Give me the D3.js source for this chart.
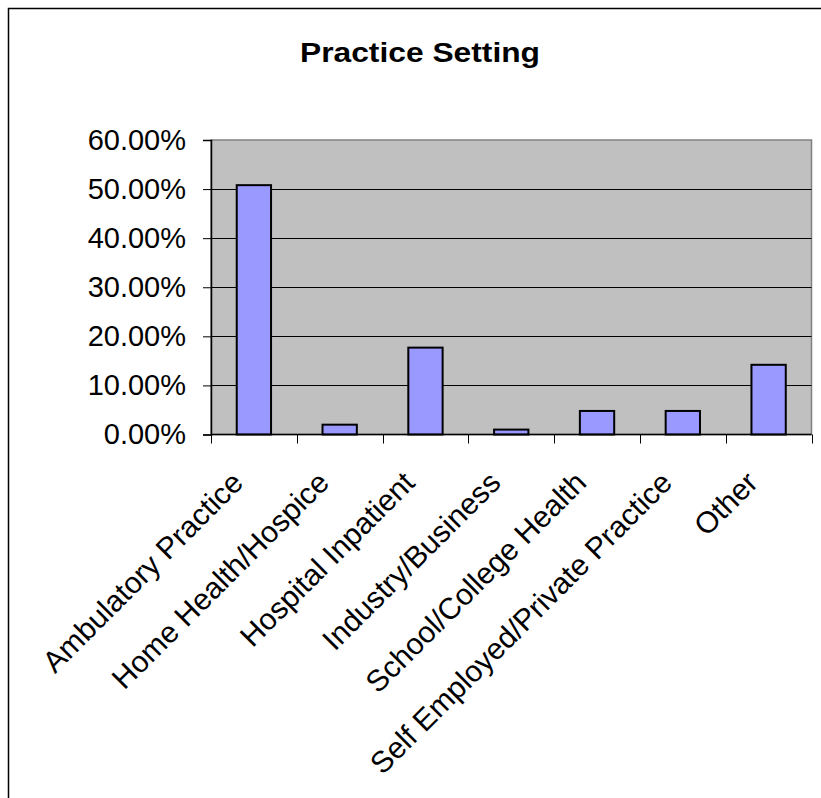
<!DOCTYPE html>
<html>
<head>
<meta charset="utf-8">
<script src="https://cdn.jsdelivr.net/npm/d3@7"></script>
<style>
  html, body { margin: 0; padding: 0; background: #fff; }
  svg { display: block; }
  text { font-family: "Liberation Sans", Arial, sans-serif; fill: #000; }
</style>
</head>
<body>
<svg id="chart" width="821" height="798"></svg>
<script>
const title = "Practice Setting";
const categories = [
  "Ambulatory Practice",
  "Home Health/Hospice",
  "Hospital Inpatient",
  "Industry/Business",
  "School/College Health",
  "Self Employed/Private Practice",
  "Other"
];
const values = [0.508, 0.020, 0.177, 0.010, 0.048, 0.048, 0.142];
const yTicks = [0, 0.1, 0.2, 0.3, 0.4, 0.5, 0.6];

const svg = d3.select("#chart");

// outer chart border (extends beyond the visible area on right/bottom)
svg.append("rect")
  .attr("x", 8.5).attr("y", 8.5)
  .attr("width", 840).attr("height", 820)
  .attr("fill", "#fff")
  .attr("stroke", "#000").attr("stroke-width", 1.5);

const plot = { left: 211, right: 811.5, top: 140, bottom: 434.5 };

const x = d3.scaleBand()
  .domain(categories)
  .range([plot.left, plot.right])
  .paddingInner(0.6)
  .paddingOuter(0.3);

const xOuter = d3.scaleBand()
  .domain(categories)
  .range([plot.left, plot.right]);

const y = d3.scaleLinear()
  .domain([0, 0.6])
  .range([plot.bottom, plot.top]);

// plot area background
svg.append("rect")
  .attr("x", plot.left).attr("y", plot.top)
  .attr("width", plot.right - plot.left)
  .attr("height", plot.bottom - plot.top)
  .attr("fill", "#c0c0c0")
  .attr("stroke", "#808080").attr("stroke-width", 1.5);

// gridlines
svg.append("g")
  .selectAll("line")
  .data(yTicks.filter(d => d > 0 && d < 0.6))
  .join("line")
  .attr("x1", plot.left).attr("x2", plot.right)
  .attr("y1", d => Math.round(y(d)) + 0.5)
  .attr("y2", d => Math.round(y(d)) + 0.5)
  .attr("stroke", "#000").attr("stroke-width", 1);

// bars
svg.append("g")
  .selectAll("rect")
  .data(values)
  .join("rect")
  .attr("x", (d, i) => x(categories[i]))
  .attr("y", d => y(d))
  .attr("width", x.bandwidth())
  .attr("height", d => y(0) - y(d))
  .attr("fill", "#9999ff")
  .attr("stroke", "#000").attr("stroke-width", 2);

// y axis
const yAxis = d3.axisLeft(y)
  .tickValues(yTicks)
  .tickFormat(d3.format(".2%"))
  .tickSize(8)
  .tickPadding(17);
const gy = svg.append("g")
  .attr("transform", `translate(${plot.left},0)`)
  .call(yAxis);
gy.select(".domain").attr("stroke", "#000").attr("stroke-width", 1.5);
gy.selectAll(".tick line").attr("stroke", "#000");
gy.selectAll(".tick text")
  .attr("font-size", 29)
  .attr("font-family", "Liberation Sans, Arial, sans-serif")
  .attr("fill", "#000");

// x axis line
svg.append("line")
  .attr("x1", plot.left).attr("x2", plot.right)
  .attr("y1", plot.bottom).attr("y2", plot.bottom)
  .attr("stroke", "#000").attr("stroke-width", 1.5);

// x tick marks at category boundaries
const boundaries = categories.map(c => xOuter(c)).concat([plot.right]);
svg.append("g")
  .selectAll("line")
  .data(boundaries)
  .join("line")
  .attr("x1", d => Math.round(d) + 0.5).attr("x2", d => Math.round(d) + 0.5)
  .attr("y1", plot.bottom).attr("y2", plot.bottom + 9)
  .attr("stroke", "#000").attr("stroke-width", 1);

// x labels
svg.append("g")
  .selectAll("text")
  .data(categories)
  .join("text")
  .attr("transform", d => {
    const cx = xOuter(d) + xOuter.bandwidth() / 2 - 9;
    return `translate(${cx},${plot.bottom + 50}) rotate(-45)`;
  })
  .attr("text-anchor", "end")
  .attr("font-size", 30)
  .text(d => d);

// title
svg.append("text")
  .attr("x", 420).attr("y", 62)
  .attr("text-anchor", "middle")
  .attr("font-size", 27)
  .attr("font-weight", "bold")
  .attr("textLength", 240)
  .attr("lengthAdjust", "spacingAndGlyphs")
  .text(title);
</script>
</body>
</html>
